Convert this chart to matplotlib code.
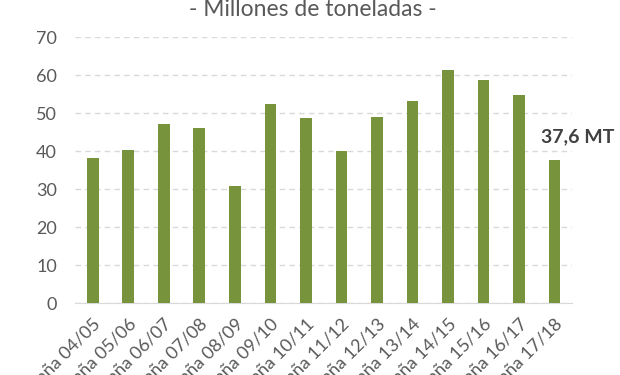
import matplotlib
matplotlib.use("Agg")
import matplotlib.pyplot as plt
import numpy as np

# datos: produccion por campaña (millones de toneladas)
campanas = ["Campaña 04/05", "Campaña 05/06", "Campaña 06/07", "Campaña 07/08",
            "Campaña 08/09", "Campaña 09/10", "Campaña 10/11", "Campaña 11/12",
            "Campaña 12/13", "Campaña 13/14", "Campaña 14/15", "Campaña 15/16",
            "Campaña 16/17", "Campaña 17/18"]
valores = [38.2, 40.3, 47.2, 46.0, 30.9, 52.4, 48.8, 40.0, 49.0, 53.3, 61.3, 58.7, 54.8, 37.6]
yticks = [0, 10, 20, 30, 40, 50, 60, 70]
titulo = "- Millones de toneladas -"
etiqueta = "37,6 MT"

plt.rcParams['font.family'] = ['Lato', 'DejaVu Sans']

fig = plt.figure(figsize=(6.2, 3.75), dpi=100)
ax = fig.add_axes([0.121, 0.192, 0.802, 0.709])

x = np.arange(len(campanas))
ax.bar(x, valores, width=0.33, color="#77933C", zorder=3)

ax.set_xlim(-0.5, len(campanas) - 0.5)
ax.set_ylim(0, 70)
ax.set_yticks(yticks)
ax.yaxis.grid(True, linestyle=(0, (4, 3)), color="#D9D9D9", linewidth=1, zorder=0)

for s in ["top", "right", "left"]:
    ax.spines[s].set_visible(False)
ax.spines["bottom"].set_color("#D9D9D9")
ax.tick_params(axis="both", length=0, colors="#595959", labelsize=13)
ax.tick_params(axis="y", pad=13)

ax.set_xticks(x)
ax.set_xticklabels(campanas, rotation=45, ha="right", rotation_mode="anchor")
for lab in ax.get_xticklabels():
    lab.set_y(-0.03)

# etiqueta del ultimo valor
ax.text(x[-1] + 0.65, valores[-1] + 4, etiqueta, fontsize=14, fontweight="bold",
        color="#404040", ha="center", va="bottom")

fig.text(0.505, 0.957, titulo, ha="center", va="baseline", fontsize=16.5, color="#595959")

fig.savefig("out.png", dpi=100)
